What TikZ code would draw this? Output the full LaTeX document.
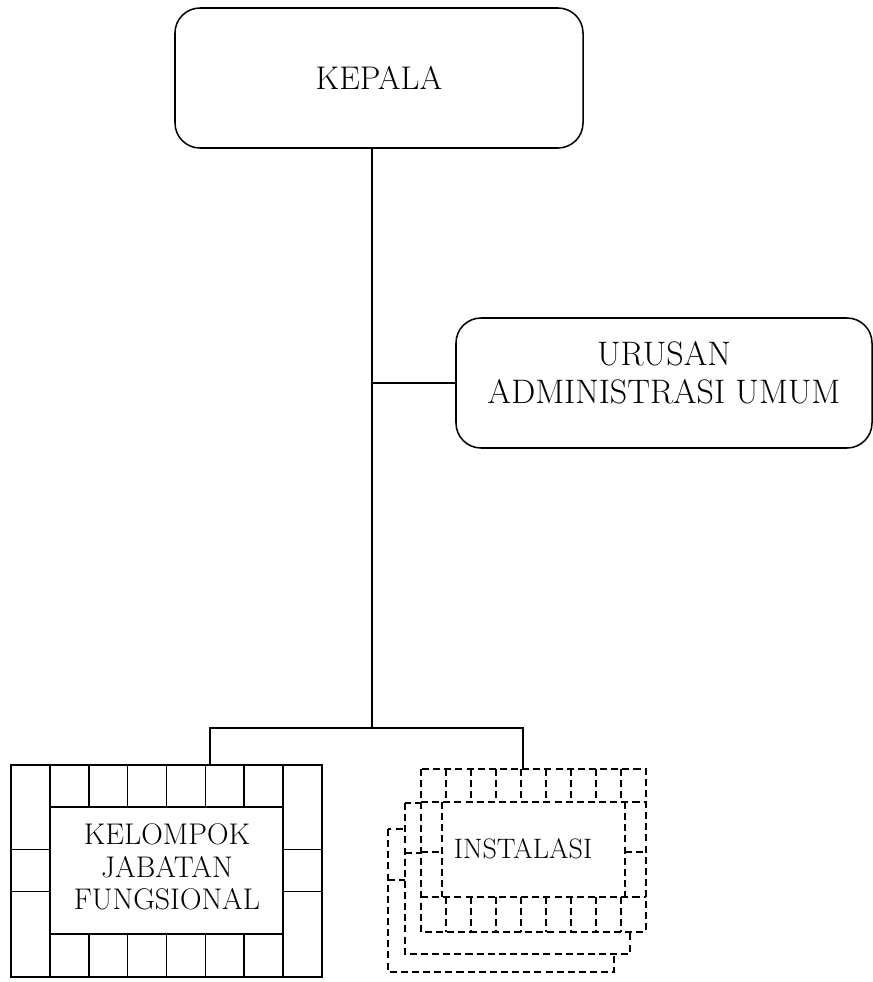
\documentclass[tikz,border=0pt]{standalone}
\usepackage{tikz}
\usetikzlibrary{positioning,calc}

\begin{document}
\begin{tikzpicture}[x=0.03cm,y=-0.03cm,line width=1.3pt,
        box/.style={draw,rounded corners=0.75cm,align=center,inner sep=0pt},
        dashline/.style={dash pattern=on 6pt off 3.5pt}]
        \useasboundingbox (0,0) rectangle (873,982);
        % boxes
        \node[box,minimum width=12.24cm,minimum height=4.2cm,font=\fontsize{28}{32}\selectfont] (kepala) at (379,78) {KEPALA};
        \node[box,minimum width=12.48cm,minimum height=3.9cm,font=\fontsize{29}{33}\selectfont] (urusan) at (664,383) {URUSAN\\ADMINISTRASI UMUM\\[-15pt]};
        \begin{scope}
            \draw (11,765) rectangle (322,977);
            \draw (50,807) rectangle (283,934);
            \foreach \i in {1,...,7} {
                \draw (11+38.875*\i,765) -- (11+38.875*\i,807);
                \draw (11+38.875*\i,934) -- (11+38.875*\i,977);
            }
            \foreach \j in {1,2} {
                \draw (11,807+42.33*\j) -- (50,807+42.33*\j);
                \draw (283,807+42.33*\j) -- (322,807+42.33*\j);
            }
        \end{scope}
        \node[align=center,font=\fontsize{25.5}{27.5}\selectfont] (kjf) at (167,867) {KELOMPOK\\JABATAN\\FUNGSIONAL};
        \begin{scope}[dashline]
            \draw[fill=white] (388,829) rectangle (614,972);
            \draw (388,880) -- (405,880);
            \draw[fill=white] (405,803) rectangle (630,954);
            \draw (405,853) -- (421,853);
            \draw[fill=white] (421,769) rectangle (646,932);
            \draw (421,802) -- (646,802);
            \draw (421,897) -- (646,897);
            \draw (442,802) -- (442,897);
            \draw (625,802) -- (625,897);
            \foreach \i in {1,...,8} {
                \draw (421+25*\i,769) -- (421+25*\i,802);
                \draw (421+25*\i,897) -- (421+25*\i,932);
            }
            \draw (421,852) -- (442,852);
            \draw (625,852) -- (646,852);
        \end{scope}
        \node[font=\fontsize{24}{28}\selectfont] (instalasi) at (523,849) {INSTALASI};
        % connectors
        \coordinate (fork) at (372,728);
        \coordinate (kjftop) at (210,765);
        \draw (kepala.south -| fork) -- (fork);
        \draw (fork |- urusan.west) -- (urusan.west);
        \draw (kjftop) |- (fork) -| (instalasi |- 0,769);
    \end{tikzpicture}
\end{document}
